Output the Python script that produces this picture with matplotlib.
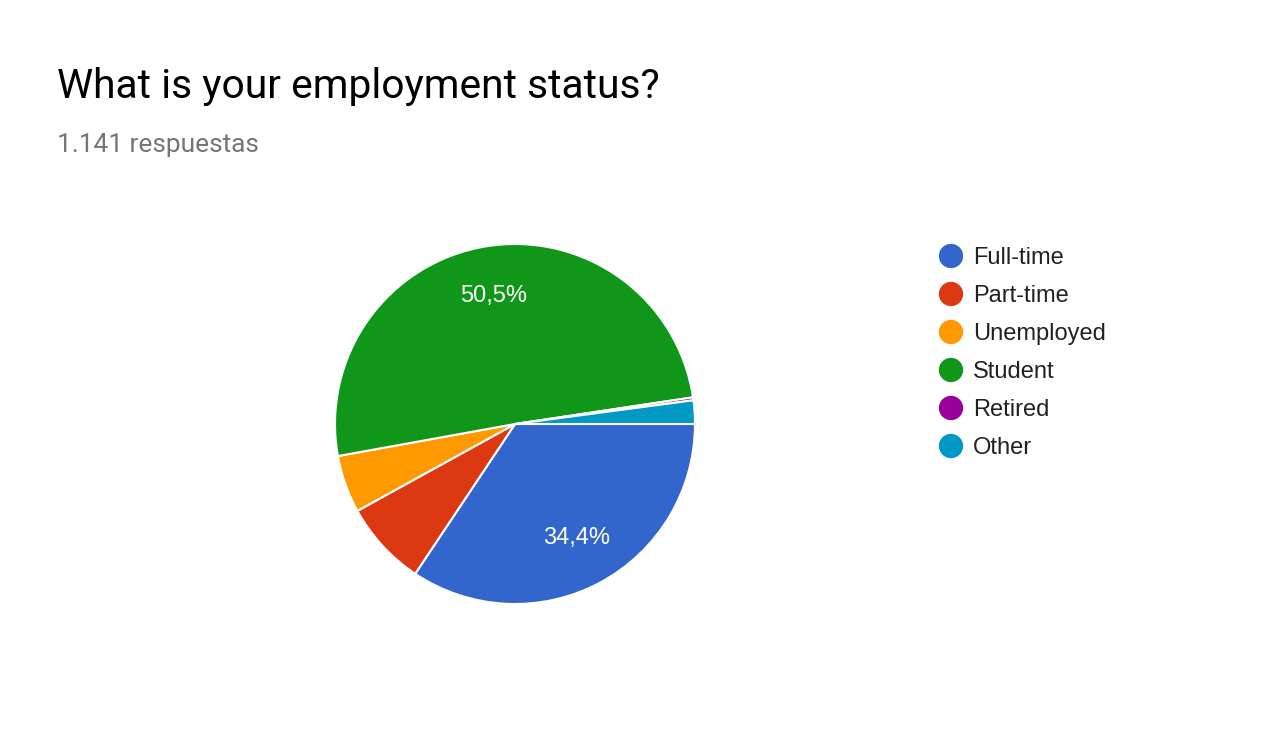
import matplotlib.pyplot as plt

# -----------------------------
# Data
# -----------------------------
categories = ["Full-time", "Part-time", "Unemployed", "Student", "Retired", "Other"]
counts = [392, 87, 59, 576, 3, 24]
colors = ["#3366cc", "#dc3912", "#ff9900", "#109618", "#990099", "#0099c6"]

title = "What is your employment status?"
subtitle = "1.141 respuestas"

W, H = 1267, 730
DPI = 100

# pie geometry in pixels
cx, cy, r = 515, 424, 180


def pct_label(p):
    # Google Forms hides labels on small slices, uses comma decimal
    if p < 10:
        return ""
    return f"{p:.1f}%".replace(".", ",")


def main():
    fig = plt.figure(figsize=(W / DPI, H / DPI), dpi=DPI)
    fig.patch.set_facecolor("white")

    ax = fig.add_axes([(cx - r) / W, (H - cy - r) / H, 2 * r / W, 2 * r / H])
    wedges, texts, autotexts = ax.pie(
        counts,
        colors=colors,
        startangle=0,
        counterclock=False,
        radius=1.0,
        autopct=pct_label,
        pctdistance=0.72,
        wedgeprops=dict(edgecolor="white", linewidth=1.5),
        textprops=dict(color="white", fontsize=17, family="Liberation Sans"),
    )
    ax.set_xlim(-1, 1)
    ax.set_ylim(-1, 1)
    ax.set_aspect("equal")
    ax.axis("off")

    fig.text(57 / W, 1 - 86 / H, title, fontsize=29.3, family="Roboto",
             color="#000000", va="center", ha="left")
    fig.text(57 / W, 1 - 145 / H, subtitle, fontsize=18.9, family="Roboto",
             color="#757575", va="center", ha="left")

    # legend: circles + labels in a pixel-coordinate overlay
    lax = fig.add_axes([0, 0, 1, 1])
    lax.set_xlim(0, W)
    lax.set_ylim(H, 0)
    lax.axis("off")
    y0, dy = 256, 38
    for i, (cat, col) in enumerate(zip(categories, colors)):
        y = y0 + i * dy
        lax.scatter([951], [y], s=(17.5) ** 2, color=col, edgecolors="none")
        lax.text(973, y + 2, cat, fontsize=17, family="Liberation Sans",
                 color="#212121", va="center", ha="left")

    fig.savefig("out.png", dpi=DPI, facecolor="white")
    plt.close(fig)


if __name__ == "__main__":
    main()
